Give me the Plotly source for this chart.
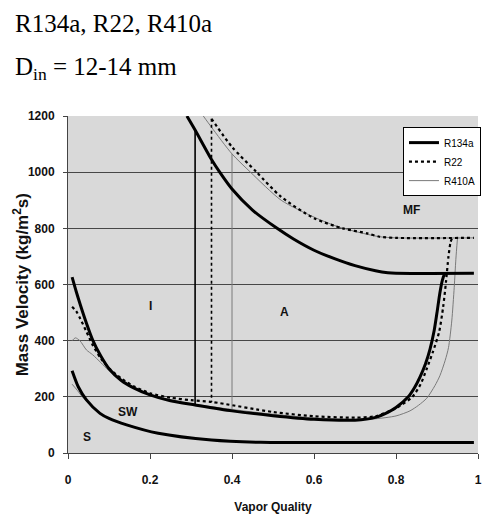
import plotly.graph_objects as go

# ---------------- data ----------------
ticks_x = [0, 0.2, 0.4, 0.6, 0.8, 1]
tick_x_labels = ["0", "0.2", "0.4", "0.6", "0.8", "1"]
ticks_y = [0, 200, 400, 600, 800, 1000, 1200]

# R134a
r134a_up_x = [0.29, 0.31, 0.35, 0.37, 0.40, 0.45, 0.51, 0.55, 0.60, 0.65, 0.70, 0.75, 0.78, 0.80, 0.99]
r134a_up_y = [1200, 1150, 1045, 1000, 940, 865, 800, 762, 722, 692, 667, 649, 642, 640, 640]
r134a_lo_x = [0.01, 0.02, 0.03, 0.045, 0.06, 0.08, 0.10, 0.13, 0.16, 0.20, 0.25, 0.31, 0.40, 0.50, 0.60,
              0.70, 0.75, 0.78, 0.80, 0.83, 0.845, 0.859, 0.872, 0.883, 0.893, 0.90, 0.907, 0.913, 0.918, 0.922]
r134a_lo_y = [626, 575, 528, 462, 403, 345, 300, 258, 232, 207, 186, 171, 150, 133, 120,
              117, 127, 145, 162, 200, 232, 272, 318, 370, 435, 500, 570, 615, 635, 640]
r134a_s_x = [0.01, 0.025, 0.045, 0.078, 0.10, 0.143, 0.22, 0.35, 0.47, 0.60, 0.80, 0.99]
r134a_s_y = [293, 236, 189, 141, 123, 100, 70, 46, 38, 37, 37, 37]
r134a_ia_x = 0.31
r134a_ia_top, r134a_ia_bot = 1150, 171

# R22
r22_up_x = [0.35, 0.40, 0.46, 0.52, 0.60, 0.67, 0.73, 0.76, 0.80, 0.99]
r22_up_y = [1190, 1090, 1000, 912, 836, 800, 782, 770, 766, 766]
r22_lo_x = [0.01, 0.02, 0.03, 0.045, 0.06, 0.08, 0.10, 0.13, 0.16, 0.20, 0.25, 0.30, 0.35, 0.50, 0.60,
            0.70, 0.75, 0.80, 0.84, 0.86, 0.875, 0.89, 0.905, 0.915, 0.922, 0.928, 0.933, 0.937]
r22_lo_y = [521, 505, 478, 432, 385, 337, 302, 265, 238, 213, 197, 188, 182, 146, 131,
            126, 131, 160, 200, 245, 300, 360, 430, 520, 610, 700, 750, 766]
r22_ia_x = 0.35
r22_ia_top, r22_ia_bot = 1190, 182

# R410A
r410_up_x = [0.33, 0.35, 0.40, 0.445, 0.52, 0.60, 0.66, 0.72, 0.76, 0.80, 0.99]
r410_up_y = [1200, 1160, 1065, 1000, 900, 840, 805, 782, 770, 766, 766]
r410_lo_x = [0.01, 0.018, 0.029, 0.045, 0.06, 0.08, 0.10, 0.13, 0.16, 0.20, 0.30, 0.40, 0.50, 0.60,
             0.70, 0.75, 0.80, 0.834, 0.855, 0.875, 0.895, 0.907, 0.92, 0.928, 0.936, 0.942, 0.946, 0.95]
r410_lo_y = [400, 410, 400, 367, 350, 322, 293, 258, 232, 206, 176, 155, 138, 125,
             120, 122, 132, 150, 170, 195, 240, 275, 330, 375, 470, 590, 690, 766]
r410_s_x = [0.01, 0.02, 0.035, 0.05, 0.08]
r410_s_y = [245, 228, 200, 178, 141]
r410_ia_x = 0.40
r410_ia_top, r410_ia_bot = 1065, 155

region_labels = ["MF", "I", "A", "SW", "S"]
region_x = [0.837, 0.20, 0.529, 0.146, 0.046]
region_y = [865, 523, 502, 146, 57]

# ---------------- styles ----------------
st134 = dict(color="black", width=3)
st22 = dict(color="black", width=2.2, dash="dot")
st410 = dict(color="#7a7a7a", width=1)

fig = go.Figure()


def add_set(name, style, up_x, up_y, lo_x, lo_y, ia_x, ia_top, ia_bot, s_x=None, s_y=None, rank=1):
    fig.add_trace(go.Scatter(x=up_x, y=up_y, mode="lines", line=dict(style, shape="spline", smoothing=0.7),
                             name=name, legendgroup=name, showlegend=True, legendrank=rank))
    fig.add_trace(go.Scatter(x=lo_x, y=lo_y, mode="lines", line=dict(style, shape="spline", smoothing=0.7),
                             name=name, legendgroup=name, showlegend=False))
    fig.add_trace(go.Scatter(x=[ia_x, ia_x], y=[ia_top, ia_bot], mode="lines",
                             line=dict(style, width=min(style["width"], 1.6)),
                             name=name, legendgroup=name, showlegend=False))
    if s_x is not None:
        fig.add_trace(go.Scatter(x=s_x, y=s_y, mode="lines", line=dict(style, shape="spline", smoothing=0.7),
                                 name=name, legendgroup=name, showlegend=False))


add_set("R410A", st410, r410_up_x, r410_up_y, r410_lo_x, r410_lo_y, r410_ia_x, r410_ia_top, r410_ia_bot,
        r410_s_x, r410_s_y, rank=3)
add_set("R134a", st134, r134a_up_x, r134a_up_y, r134a_lo_x, r134a_lo_y, r134a_ia_x, r134a_ia_top, r134a_ia_bot,
        r134a_s_x, r134a_s_y, rank=1)
add_set("R22", st22, r22_up_x, r22_up_y, r22_lo_x, r22_lo_y, r22_ia_x, r22_ia_top, r22_ia_bot, rank=2)

for t, x, y in zip(region_labels, region_x, region_y):
    fig.add_annotation(x=x, y=y, text=t, showarrow=False,
                       font=dict(family="Liberation Sans", size=12, color="#111", weight="bold"))

# title lines (outside plot area)
fig.add_annotation(xref="paper", yref="paper", x=-0.134, y=1.275, xanchor="left", yanchor="middle",
                   text="R134a, R22, R410a", showarrow=False,
                   font=dict(family="Liberation Serif", size=25, color="black"))
fig.add_annotation(xref="paper", yref="paper", x=-0.134, y=1.140, xanchor="left", yanchor="middle",
                   text="D<sub>in</sub> = 12-14 mm", showarrow=False,
                   font=dict(family="Liberation Serif", size=25, color="black"))

# y-axis title placed precisely as an annotation
fig.add_annotation(xref="paper", yref="paper", x=-0.115, y=0.5, xanchor="center", yanchor="middle",
                   textangle=-90, showarrow=False,
                   text="Mass Velocity (kg/m<sup>2</sup>s)",
                   font=dict(family="Liberation Sans", size=17, color="#111", weight="bold"))

tick_font = dict(family="Liberation Sans", size=12, color="#111", weight="bold")
fig.update_layout(
    width=498, height=521,
    margin=dict(l=68, r=20, t=116, b=68),
    paper_bgcolor="white",
    plot_bgcolor="#d9d9d9",
    showlegend=True,
    legend=dict(x=0.817, y=0.967, xanchor="left", yanchor="top",
                bgcolor="white", bordercolor="black", borderwidth=1,
                font=dict(family="Liberation Sans", size=10, color="black"),
                itemwidth=30, tracegroupgap=0),
    xaxis=dict(range=[0, 1], tickvals=ticks_x, ticktext=tick_x_labels, automargin=False,
               showgrid=False, zeroline=False, showline=True, linecolor="#444", linewidth=1,
               ticks="outside", ticklen=5, tickcolor="#444", ticklabelstandoff=11,
               tickfont=tick_font,
               title=dict(text="Vapor Quality", font=tick_font, standoff=16)),
    yaxis=dict(range=[0, 1200], tickvals=ticks_y, automargin=False,
               showgrid=True, gridcolor="#474747", gridwidth=1.4, zeroline=False,
               showline=True, linecolor="#444", linewidth=1,
               ticks="outside", ticklen=4, tickcolor="#444", ticklabelstandoff=6,
               tickfont=tick_font),
)

fig.write_html("out.html")
